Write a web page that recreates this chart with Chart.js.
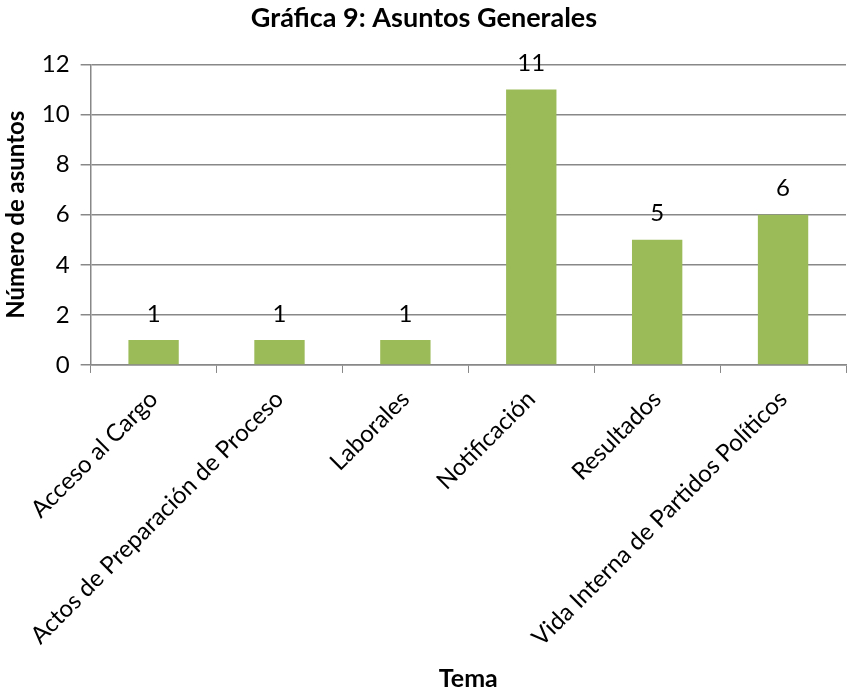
<!DOCTYPE html>
<html>
<head>
<meta charset="utf-8">
<script src="https://cdn.jsdelivr.net/npm/chart.js@4/dist/chart.umd.min.js"></script>
<style>
    html, body { margin: 0; padding: 0; background: #fff; }
    #wrap { width: 847px; height: 694px; }
</style>
</head>
<body>
<div id="wrap"><canvas id="chart" width="847" height="694"></canvas></div>
<script>
// Chart data
const categories = [
    'Acceso al Cargo',
    'Actos de Preparación de Proceso',
    'Laborales',
    'Notificación',
    'Resultados',
    'Vida Interna de Partidos Políticos'
];
const asuntos = [1, 1, 1, 11, 5, 6];
const yTicks = [0, 2, 4, 6, 8, 10, 12];

const FONT = 'Lato, "Open Sans", sans-serif';

// Draw value labels above each bar
const valueLabels = {
    id: 'valueLabels',
    afterDatasetsDraw(chart) {
        const ctx = chart.ctx;
        const meta = chart.getDatasetMeta(0);
        ctx.save();
        ctx.font = '24px ' + FONT;
        ctx.fillStyle = '#000';
        ctx.textAlign = 'center';
        ctx.textBaseline = 'middle';
        meta.data.forEach((bar, i) => {
            ctx.fillText(String(asuntos[i]), bar.x, bar.y - 26);
        });
        ctx.restore();
    }
};

new Chart(document.getElementById('chart'), {
    type: 'bar',
    data: {
        labels: categories,
        datasets: [{
            data: asuntos,
            backgroundColor: '#9BBB59',
            borderWidth: 0,
            categoryPercentage: 1,
            barPercentage: 0.4
        }]
    },
    options: {
        responsive: false,
        animation: false,
        layout: { padding: { top: 2, right: 1, left: 2, bottom: 0 } },
        plugins: {
            legend: { display: false },
            tooltip: { enabled: false },
            title: {
                display: true,
                text: 'Gráfica 9: Asuntos Generales',
                color: '#000',
                font: { family: FONT, size: 27, weight: 'bold' },
                padding: { top: 0, bottom: 30 }
            }
        },
        scales: {
            x: {
                offset: true,
                // rotated labels may hang past the left edge, as in the original
                afterFit(scale) {
                    scale.paddingLeft = 0;
                    scale.paddingRight = 0;
                },
                grid: {
                    display: true,
                    drawOnChartArea: false,
                    drawTicks: true,
                    tickLength: 8,
                    color: '#888',
                    offset: true
                },
                border: { color: '#888', width: 1.5 },
                ticks: {
                    color: '#000',
                    font: { family: FONT, size: 24 },
                    maxRotation: 45,
                    minRotation: 45,
                    autoSkip: false,
                    padding: 12
                },
                title: {
                    display: true,
                    text: 'Tema',
                    color: '#000',
                    font: { family: FONT, size: 25, weight: 'bold' },
                    padding: { top: 0, bottom: 0 }
                }
            },
            y: {
                min: 0,
                max: 12,
                afterBuildTicks(axis) {
                    axis.ticks = yTicks.map(v => ({ value: v }));
                },
                grid: {
                    color: '#888',
                    lineWidth: 1.5,
                    drawTicks: true,
                    tickLength: 10
                },
                border: { color: '#888', width: 1.5 },
                ticks: {
                    color: '#000',
                    font: { family: FONT, size: 24 },
                    padding: 11
                },
                title: {
                    display: true,
                    text: 'Número de asuntos',
                    color: '#000',
                    font: { family: FONT, size: 24, weight: 'bold' },
                    padding: { top: 0, bottom: 0 }
                }
            }
        }
    },
    plugins: [valueLabels]
});
</script>
</body>
</html>
